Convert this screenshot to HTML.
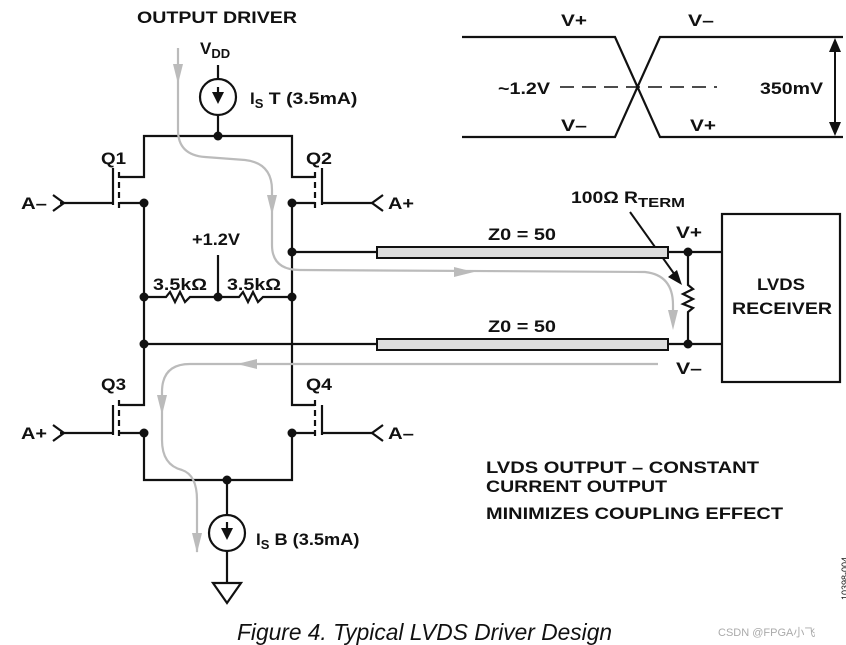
<!DOCTYPE html>
<html><head><meta charset="utf-8"><style>
html,body{margin:0;padding:0;background:#fff;width:846px;height:645px;overflow:hidden}
text{font-family:"Liberation Sans",Arial,sans-serif;font-weight:bold;fill:#111}
text.n{font-weight:normal}
</style></head><body>
<svg width="846" height="645" viewBox="0 0 846 645" xmlns="http://www.w3.org/2000/svg">
<g stroke="#111" stroke-width="2.2" fill="none">
<line x1="218" y1="65" x2="218" y2="79"/>
<circle cx="218" cy="97" r="18"/>
<line x1="218" y1="115" x2="218" y2="136"/>
<line x1="218" y1="87" x2="218" y2="100"/>
<polyline points="120,177 144,177 144,136 292,136 292,177 315,177"/>
<line x1="113" y1="168" x2="113" y2="205"/>
<line x1="119" y1="172" x2="119" y2="208" stroke-dasharray="6,4"/>
<polyline points="60,203 113,203"/>
<polyline points="53,195 64,203 53,211"/>
<line x1="120" y1="203" x2="144" y2="203"/>
<line x1="322" y1="168" x2="322" y2="205"/>
<line x1="315" y1="172" x2="315" y2="208" stroke-dasharray="6,4"/>
<polyline points="322,203 372,203"/>
<polyline points="383,195 372,203 383,211"/>
<line x1="292" y1="203" x2="315" y2="203"/>
<polyline points="144,203 144,405 120,405"/>
<polyline points="292,203 292,405 315,405"/>
<line x1="113" y1="405" x2="113" y2="435"/>
<line x1="119" y1="400" x2="119" y2="436" stroke-dasharray="6,4"/>
<polyline points="60,433 113,433"/>
<polyline points="53,425 64,433 53,441"/>
<line x1="120" y1="433" x2="144" y2="433"/>
<line x1="322" y1="405" x2="322" y2="435"/>
<line x1="315" y1="400" x2="315" y2="436" stroke-dasharray="6,4"/>
<polyline points="322,433 372,433"/>
<polyline points="383,425 372,433 383,441"/>
<line x1="292" y1="433" x2="315" y2="433"/>
<polyline points="144,433 144,480 292,480 292,433"/>
<line x1="227" y1="480" x2="227" y2="515"/>
<circle cx="227" cy="533" r="18"/>
<line x1="227" y1="551" x2="227" y2="583"/>
<line x1="227" y1="522" x2="227" y2="535"/>
<polygon points="213,583 241,583 227,603"/>
<polyline points="144,297 166,297 170,292 175,302 180,292 185,302 190,297 218,297 239,297 243,292 248,302 253,292 258,302 263,297 292,297"/>
<line x1="218" y1="255" x2="218" y2="297"/>
<line x1="292" y1="252" x2="377" y2="252"/>
<line x1="668" y1="252" x2="722" y2="252"/>
<line x1="144" y1="344" x2="377" y2="344"/>
<line x1="668" y1="344" x2="722" y2="344"/>
<polyline points="688,252 688,285 693,289 683,294 693,299 683,304 693,308 688,312 688,344"/>
<rect x="722" y="214" width="118" height="168"/>
<polyline points="462,37 615,37 660,137 843,137"/>
<polyline points="462,137 615,137 660,37 843,37"/>
<line x1="560" y1="87" x2="717" y2="87" stroke-width="1.5" stroke-dasharray="14,8"/>
<line x1="835" y1="48" x2="835" y2="126" stroke-width="2"/>
<line x1="630" y1="212" x2="675" y2="275" stroke-width="2"/>
</g>
<g fill="#111">
<polygon points="218,104 212,92 224,92"/>
<polygon points="227,540 221,528 233,528"/>
<polygon points="835,38 829,52 841,52"/>
<polygon points="835,136 829,122 841,122"/>
<polygon points="682,285 668,277 677,270"/>
<circle cx="218" cy="136" r="4.5"/><circle cx="144" cy="203" r="4.5"/><circle cx="292" cy="203" r="4.5"/>
<circle cx="292" cy="252" r="4.5"/><circle cx="144" cy="297" r="4.5"/><circle cx="218" cy="297" r="4.5"/>
<circle cx="292" cy="297" r="4.5"/><circle cx="144" cy="344" r="4.5"/><circle cx="144" cy="433" r="4.5"/>
<circle cx="292" cy="433" r="4.5"/><circle cx="227" cy="480" r="4.5"/>
<circle cx="688" cy="252" r="4.5"/><circle cx="688" cy="344" r="4.5"/>
</g>
<rect x="377" y="247" width="291" height="11" fill="#ddd" stroke="#111" stroke-width="2"/>
<rect x="377" y="339" width="291" height="11" fill="#ddd" stroke="#111" stroke-width="2"/>
<g stroke="#bbb" stroke-width="2.2" fill="none">
<path d="M178,48 L178,130 Q178,155 205,157 L245,160 Q272,163 272,190 L272,245 Q272,270 300,270 L645,272 Q673,275 673,305 L673,325"/>
<path d="M658,364 L190,364 Q162,364 162,392 L162,440 Q162,465 182,470 Q197,475 197,500 L197,552"/>
</g>
<g fill="#bbb">
<polygon points="178,84 173,64 183,64"/>
<polygon points="272,215 267,195 277,195"/>
<polygon points="474,272 454,267 454,277"/>
<polygon points="673,330 668,310 678,310"/>
<polygon points="237,364 257,359 257,369"/>
<polygon points="162,415 157,395 167,395"/>
<polygon points="197,553 192,533 202,533"/>
</g>
<g font-size="17">
<text x="137" y="23" textLength="160" lengthAdjust="spacingAndGlyphs">OUTPUT DRIVER</text>
<text x="200" y="54">V<tspan font-size="13" dy="4">DD</tspan></text>
<text x="250" y="104">I<tspan font-size="13" dy="4">S</tspan><tspan dy="-4" textLength="94" lengthAdjust="spacingAndGlyphs"> T (3.5mA)</tspan></text>
<text x="256" y="545">I<tspan font-size="13" dy="4">S</tspan><tspan dy="-4" textLength="90" lengthAdjust="spacingAndGlyphs"> B (3.5mA)</tspan></text>
<text x="101" y="164" textLength="25" lengthAdjust="spacingAndGlyphs">Q1</text>
<text x="306" y="164" textLength="26" lengthAdjust="spacingAndGlyphs">Q2</text>
<text x="101" y="390" textLength="25" lengthAdjust="spacingAndGlyphs">Q3</text>
<text x="306" y="390" textLength="26" lengthAdjust="spacingAndGlyphs">Q4</text>
<text x="21" y="209" textLength="26" lengthAdjust="spacingAndGlyphs">A–</text>
<text x="388" y="209" textLength="26" lengthAdjust="spacingAndGlyphs">A+</text>
<text x="21" y="439" textLength="26" lengthAdjust="spacingAndGlyphs">A+</text>
<text x="388" y="439" textLength="26" lengthAdjust="spacingAndGlyphs">A–</text>
<text x="192" y="245" textLength="48" lengthAdjust="spacingAndGlyphs">+1.2V</text>
<text x="153" y="290" textLength="54" lengthAdjust="spacingAndGlyphs">3.5kΩ</text>
<text x="227" y="290" textLength="54" lengthAdjust="spacingAndGlyphs">3.5kΩ</text>
<text x="488" y="240" textLength="68" lengthAdjust="spacingAndGlyphs">Z0 = 50</text>
<text x="488" y="332" textLength="68" lengthAdjust="spacingAndGlyphs">Z0 = 50</text>
<text x="571" y="203"><tspan textLength="67" lengthAdjust="spacingAndGlyphs">100Ω R</tspan><tspan font-size="13" dy="4" textLength="47" lengthAdjust="spacingAndGlyphs">TERM</tspan></text>
<text x="676" y="238" textLength="26" lengthAdjust="spacingAndGlyphs">V+</text>
<text x="676" y="374" textLength="26" lengthAdjust="spacingAndGlyphs">V–</text>
<text x="757" y="290" textLength="48" lengthAdjust="spacingAndGlyphs">LVDS</text>
<text x="732" y="314" textLength="100" lengthAdjust="spacingAndGlyphs">RECEIVER</text>
<text x="561" y="26" textLength="26" lengthAdjust="spacingAndGlyphs">V+</text>
<text x="688" y="26" textLength="26" lengthAdjust="spacingAndGlyphs">V–</text>
<text x="561" y="131" textLength="26" lengthAdjust="spacingAndGlyphs">V–</text>
<text x="690" y="131" textLength="26" lengthAdjust="spacingAndGlyphs">V+</text>
<text x="498" y="94" textLength="52" lengthAdjust="spacingAndGlyphs">~1.2V</text>
<text x="760" y="94" textLength="63" lengthAdjust="spacingAndGlyphs">350mV</text>
<text x="486" y="473" textLength="273" lengthAdjust="spacingAndGlyphs">LVDS OUTPUT – CONSTANT</text>
<text x="486" y="492" textLength="181" lengthAdjust="spacingAndGlyphs">CURRENT OUTPUT</text>
<text x="486" y="519" textLength="297" lengthAdjust="spacingAndGlyphs">MINIMIZES COUPLING EFFECT</text>
</g>
<text class="n" x="237" y="640" font-size="23" font-style="italic" textLength="375" lengthAdjust="spacingAndGlyphs">Figure 4. Typical LVDS Driver Design</text>
<text class="n" x="718" y="636" font-size="11" style="fill:#aaa">CSDN @FPGA小飞</text>
<text class="n" transform="translate(848,600) rotate(-90)" font-size="9">10398-004</text>
</svg>
</body></html>
